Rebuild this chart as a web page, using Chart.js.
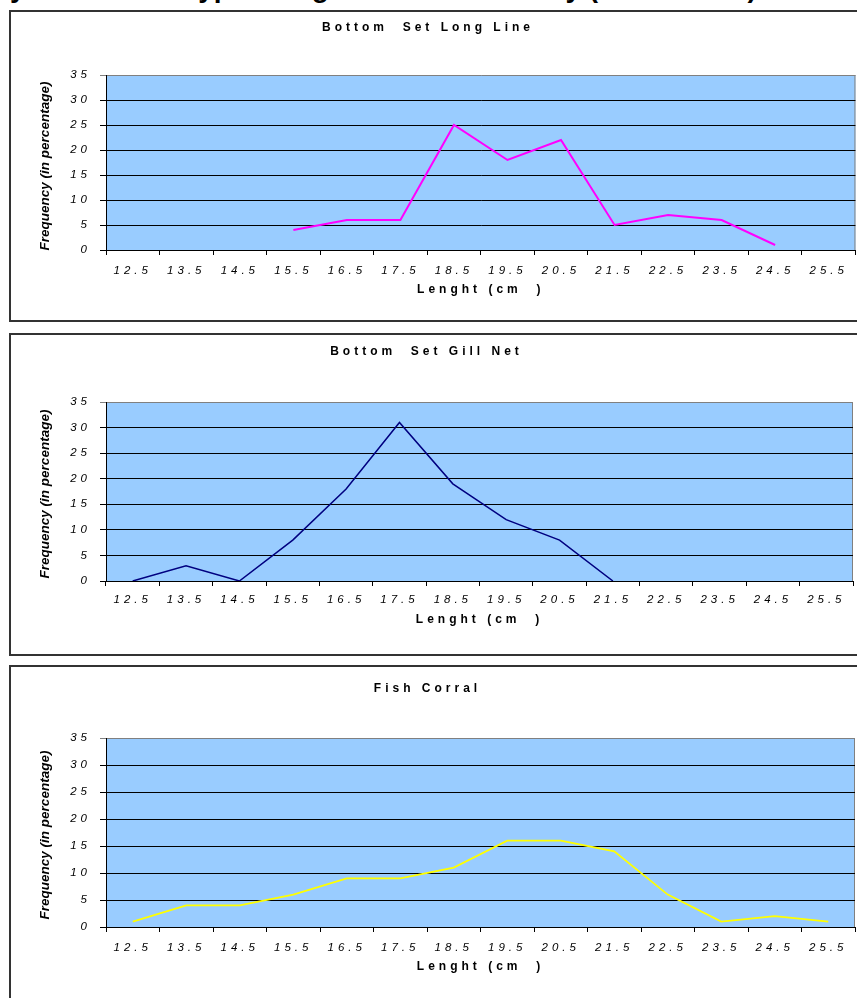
<!DOCTYPE html>
<html>
<head>
<meta charset="utf-8">
<script src="https://cdn.jsdelivr.net/npm/chart.js@4.4.1/dist/chart.umd.min.js"></script>
<style>
  html, body { margin: 0; padding: 0; background: #fff; }
  body { width: 857px; height: 998px; position: relative; overflow: hidden; font-family: "Liberation Sans", Arial, sans-serif; }
  .panel { position: absolute; left: 9px; width: 900px; border: 2px solid #333; box-sizing: border-box; background: #fff; }
  canvas { position: absolute; left: 0; }
  .ytitle { position: absolute; font: italic bold 13.5px "Liberation Sans", Arial, sans-serif; white-space: nowrap; color: #000;
            transform: translate(-50%, -50%) rotate(-90deg); }
  #hdr { position: absolute; top: -26.5px; font: bold 28px/28px "Liberation Sans", Arial, sans-serif; white-space: nowrap; color: #000; }
</style>
</head>
<body>
<div id="hdr"><span id="pre">Length Frequenc</span>y of the Gear type using in the whole study (2004 - 2005)</div>

<div class="panel" style="top:10px;height:312px;"></div>
<div class="panel" style="top:333px;height:323px;"></div>
<div class="panel" style="top:665px;height:360px;"></div>

<canvas id="c1" width="857" height="311" style="top:10px"></canvas>
<canvas id="c2" width="857" height="322" style="top:333px"></canvas>
<canvas id="c3" width="857" height="333" style="top:665px"></canvas>

<div class="ytitle" style="left:43.5px;top:166px;">Frequency (in percentage)</div>
<div class="ytitle" style="left:43.5px;top:494px;">Frequency (in percentage)</div>
<div class="ytitle" style="left:43.5px;top:835px;">Frequency (in percentage)</div>

<script>
// ---- data ----
const lengthLabels = ['12.5','13.5','14.5','15.5','16.5','17.5','18.5','19.5','20.5','21.5','22.5','23.5','24.5','25.5'];
const longLine   = [null, null, null, 4, 6, 6, 25, 18, 22, 5, 7, 6, 1, null];
const gillNet    = [0, 3, 0, 8, 18, 31, 19, 12, 8, 0, null, null, null, null];
const fishCorral = [1, 4, 4, 6, 9, 9, 11, 16, 16, 14, 6, 1, 2, 1];
const panelTitles = ['Bottom  Set Long Line', 'Bottom  Set Gill Net', 'Fish Corral'];
const xAxisTitle = 'Lenght (cm  )';
const yMin = 0, yMax = 35, yStep = 5;

// header offset
const pre = document.getElementById('pre');
document.getElementById('hdr').style.left = (10 - pre.getBoundingClientRect().width) + 'px';

const FONT = '"Liberation Sans", Arial, sans-serif';
const SPACING = '4px';
const TICK_SIZE = 11.5, XT_SIZE = 12, TITLE_SIZE = 12;

const bgPlugin = {
  id: 'bgPlot',
  beforeUpdate(chart) { chart.ctx.letterSpacing = SPACING; },
  beforeDraw(chart) {
    const ctx = chart.ctx, a = chart.chartArea;
    ctx.save();
    ctx.fillStyle = '#99CCFF';
    ctx.fillRect(a.left, a.top, a.right - a.left, a.bottom - a.top);
    ctx.strokeStyle = '#808080';
    ctx.lineWidth = 1;
    ctx.beginPath();
    ctx.moveTo(a.right - 0.5, a.top);
    ctx.lineTo(a.right - 0.5, a.bottom);
    ctx.stroke();
    ctx.restore();
    ctx.letterSpacing = SPACING;
  }
};

function makeChart(id, title, data, color, width, geo) {
  const H = geo.h;
  const pt = geo.plotTop, pb = geo.plotBottom;
  const xScaleH = H - pb;
  const tlh = TITLE_SIZE * 1.2, klh = TICK_SIZE * 1.2, xlh = XT_SIZE * 1.2;
  return new Chart(document.getElementById(id), {
    type: 'line',
    data: {
      labels: lengthLabels,
      datasets: [{ data: data, borderColor: color, borderWidth: width, pointRadius: 0, pointHoverRadius: 0,
                   tension: 0, fill: false, spanGaps: false }]
    },
    options: {
      responsive: false, animation: false, devicePixelRatio: 1,
      layout: { padding: { left: 0, right: 857 - geo.plotRight, top: 0, bottom: 0 } },
      plugins: {
        legend: { display: false }, tooltip: { enabled: false },
        title: { display: true, text: title, color: '#000',
                 font: { family: FONT, size: TITLE_SIZE, weight: 'bold', lineHeight: 1.2 },
                 padding: { top: geo.titleC - tlh / 2, bottom: pt - geo.titleC - tlh / 2 } }
      },
      scales: {
        x: {
          type: 'category', offset: true,
          grid: { offset: true, drawOnChartArea: false, drawTicks: true, tickLength: 5, color: '#000' },
          border: { display: true, color: '#000', width: 1 },
          ticks: { color: '#000', font: { family: FONT, size: TICK_SIZE, style: 'italic', lineHeight: 1.2 },
                   padding: geo.tickC - 5 - klh / 2, maxRotation: 0, autoSkip: false },
          title: { display: true, text: xAxisTitle, color: '#000',
                   font: { family: FONT, size: XT_SIZE, weight: 'bold', lineHeight: 1.2 },
                   padding: { top: 0, bottom: xScaleH - geo.xTitleC - xlh / 2 } },
          afterFit(s) { s.height = xScaleH; }
        },
        y: {
          min: yMin, max: yMax,
          grid: { color: (c) => (c.tick && c.tick.value === yMax) ? '#808080' : '#000', lineWidth: 1,
                  drawTicks: true, tickLength: 6 },
          border: { display: true, color: '#000', width: 1 },
          ticks: { stepSize: yStep, color: '#000', padding: 9,
                   font: { family: FONT, size: TICK_SIZE, style: 'italic', lineHeight: 1.2 } },
          afterFit(s) { s.width = 106; }
        }
      }
    },
    plugins: [bgPlugin]
  });
}

makeChart('c1', panelTitles[0], longLine, '#FF00FF', 2,
  { h: 311, plotTop: 65, plotBottom: 240, plotRight: 856, titleC: 18, tickC: 21, xTitleC: 40 });
makeChart('c2', panelTitles[1], gillNet, '#000080', 1.5,
  { h: 322, plotTop: 69, plotBottom: 248, plotRight: 853, titleC: 19, tickC: 19, xTitleC: 39 });
makeChart('c3', panelTitles[2], fishCorral, '#FFFF00', 1.75,
  { h: 333, plotTop: 73, plotBottom: 262, plotRight: 855, titleC: 24, tickC: 21, xTitleC: 40 });
</script>
</body>
</html>
